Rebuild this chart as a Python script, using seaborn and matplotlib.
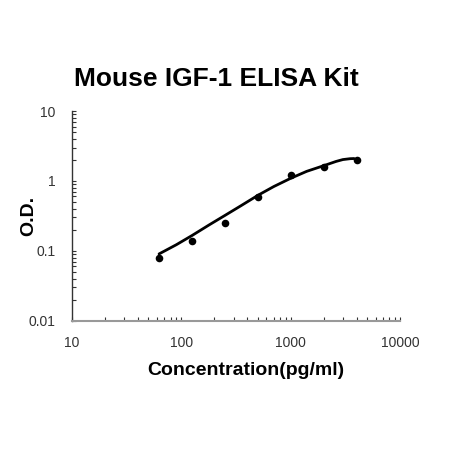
import matplotlib
matplotlib.use('Agg')
import matplotlib.pyplot as plt
import seaborn as sns
import pandas as pd
from matplotlib.ticker import LogLocator, FixedLocator, NullFormatter

# Standard points
conc = [62.5, 125, 250, 500, 1000, 2000, 4000]
od = [0.078, 0.136, 0.25, 0.59, 1.21, 1.58, 2.01]

# Fitted curve
curve_conc = [62.5, 90, 125, 180, 250, 350, 500, 700, 1000, 1400, 2000, 2600, 3000, 3500, 3800]
curve_od = [0.09, 0.122, 0.165, 0.235, 0.32, 0.44, 0.62, 0.83, 1.09, 1.37, 1.65, 1.9, 2.02, 2.08, 2.09]

x_ticks = [10, 100, 1000, 10000]
x_labels = ['10', '100', '1000', '10000']
y_ticks = [0.01, 0.1, 1, 10]
y_labels = ['0.01', '0.1', '1', '10']

sns.set_style('white')
plt.rcParams['font.family'] = ['Liberation Sans', 'DejaVu Sans']
plt.rcParams['text.color'] = 'black'
plt.rcParams['axes.labelcolor'] = 'black'

df_pts = pd.DataFrame({'conc': conc, 'od': od})
df_curve = pd.DataFrame({'conc': curve_conc, 'od': curve_od})

fig = plt.figure(figsize=(4.51, 4.5), dpi=100)
ax = fig.add_axes([0.1597, 0.2876, 0.7273, 0.4656])

sns.lineplot(data=df_curve, x='conc', y='od', color='black', linewidth=2.0, ax=ax)
sns.scatterplot(data=df_pts, x='conc', y='od', color='black', s=30, edgecolor='black', linewidth=0, ax=ax, zorder=3)

ax.set_xscale('log')
ax.set_yscale('log')
ax.set_xlim(10, 10000)
ax.set_ylim(0.01, 10)

ax.xaxis.set_major_locator(FixedLocator(x_ticks))
ax.set_xticklabels(x_labels)
ax.yaxis.set_major_locator(FixedLocator(y_ticks))
ax.set_yticklabels(y_labels)
ax.xaxis.set_minor_locator(LogLocator(base=10, subs=range(2, 10)))
ax.yaxis.set_minor_locator(LogLocator(base=10, subs=range(2, 10)))
ax.xaxis.set_minor_formatter(NullFormatter())
ax.yaxis.set_minor_formatter(NullFormatter())

ax.tick_params(axis='both', which='both', direction='in', length=3, width=0.8,
               color='#333333', labelsize=10, labelcolor='#333333')
ax.tick_params(axis='x', which='both', pad=11)
ax.tick_params(axis='y', which='both', pad=12)
ax.tick_params(left=True, bottom=True, which='both')

for side in ['top', 'right']:
    ax.spines[side].set_visible(False)
ax.spines['left'].set_color('#333333')
ax.spines['bottom'].set_color('#999999')
ax.spines['left'].set_linewidth(1.0)
ax.spines['bottom'].set_linewidth(1.5)

ax.set_xlabel('Concentration(pg/ml)', fontsize=14, fontweight='bold')
ax.xaxis.set_label_coords(0.53, -0.2)
ax.set_ylabel('O.D.', fontsize=14, fontweight='bold')
ax.yaxis.set_label_coords(-0.105, 0.5)
fig.text(0.48, 0.825, 'Mouse IGF-1 ELISA Kit', fontsize=19, fontweight='bold', ha='center', va='center')

fig.savefig('out.png', dpi=100)
